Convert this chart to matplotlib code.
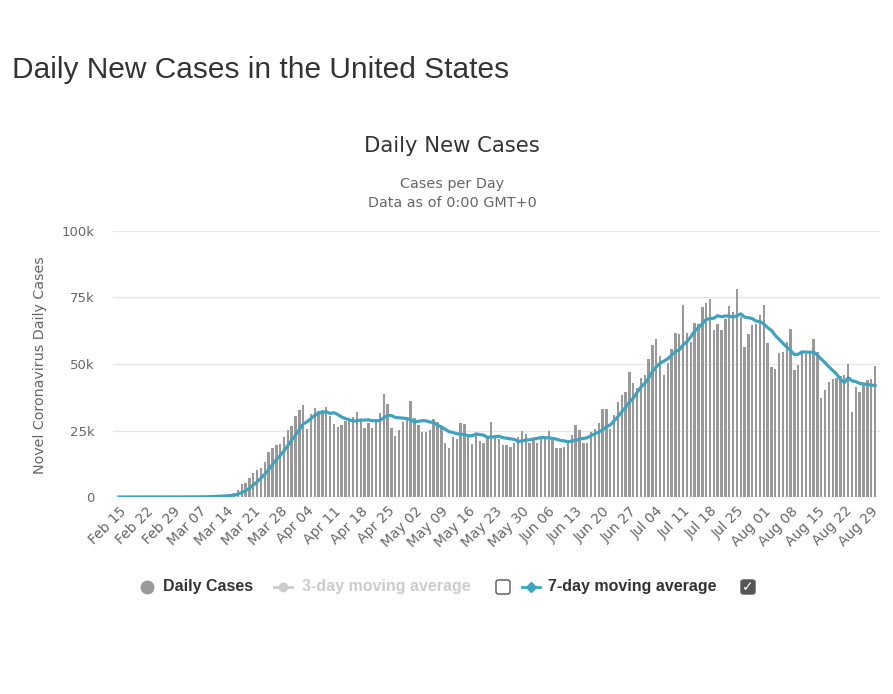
import numpy as np
import pandas as pd
import matplotlib
matplotlib.use("Agg")
import matplotlib.pyplot as plt
from matplotlib.lines import Line2D
from matplotlib.patches import FancyBboxPatch

# daily new cases in thousands, one value per day starting Feb 15 2020
daily_cases = [
    # Feb 15 - Feb 29
    0, 0, 0, 0, 0, 0, 0.02, 0, 0, 0, 0.01, 0.02, 0.01, 0.01, 0.02,
    # Mar 1 - Mar 16
    0.008, 0.02, 0.024, 0.033, 0.074, 0.089, 0.116, 0.116, 0.245, 0.291,
    0.455, 0.538, 0.65, 0.687, 1.0, 1.5,
    # Mar 17 - Mar 31
    2.6, 5.0, 5.1, 7.0, 9.0, 10.0, 11.0, 13.0, 17.0, 18.4, 19.5, 20.0,
    22.7, 25.2, 26.7,
    # April
    30.5, 32.7, 34.6, 25.5, 31.2, 33.6, 32.5, 32.7, 34.0, 30.5, 27.4,
    26.4, 27.0, 28.5, 29.6, 30.2, 32.0, 29.0, 26.0, 28.0, 26.0, 29.2,
    31.7, 38.7, 35.0, 25.8, 22.9, 25.2, 28.3, 30.2, 36.0,
    # May
    29.6, 27.0, 24.6, 24.6, 25.2, 29.2, 28.3, 25.8, 20.4, 18.3, 22.7,
    21.7, 28.0, 27.4, 22.9, 20.0, 23.3, 21.0, 20.4, 22.1, 28.3, 23.3,
    21.7, 19.5, 19.5, 18.9, 20.4, 22.7, 24.9, 23.7, 20.4, 21.7, 20.4,
    # June
    22.7, 22.0, 24.9, 22.1, 18.5, 18.5, 18.9, 20.8, 23.3, 27.1, 25.2,
    20.2, 20.4, 24.6, 25.4, 27.9, 33.0, 33.0, 25.4, 30.8, 35.7,
    38.3, 39.6, 47.1, 43.0, 40.8, 44.6, 45.9, 51.8, 57.1,
    # July
    59.3, 53.0, 45.9, 50.5, 55.5, 61.8, 61.3, 72.2, 61.8, 58.4, 65.5,
    65.0, 71.5, 73.0, 74.3, 62.8, 65.0, 62.8, 66.8, 71.8, 69.7, 78.1,
    67.8, 56.3, 61.3, 64.7, 65.0, 68.4, 72.2, 58.0, 49.0,
    # August
    48.0, 54.3, 54.6, 58.4, 63.0, 47.7, 49.6, 54.3, 53.8, 54.0, 59.3,
    54.6, 37.1, 40.2, 43.4, 44.2, 44.6, 45.5, 46.0, 50.0, 32.1, 41.2,
    39.6, 43.0, 44.0, 44.5, 49.2,
]
start_date = "2020-02-15"
y_ticks = [0, 25000, 50000, 75000, 100000]
y_tick_labels = ["0", "25k", "50k", "75k", "100k"]

bar_color = "#999999"
line_color = "#3ea3bf"
grid_color = "#e6e6e6"
text_dark = "#333333"
text_mid = "#666666"

cases = np.array(daily_cases) * 1000
days = np.arange(len(cases))
dates = pd.date_range(start_date, periods=len(cases), freq="D")
ma7 = pd.Series(cases).rolling(7, min_periods=1).mean()

W, H = 893, 694
fig = plt.figure(figsize=(W / 100, H / 100), dpi=100)
fig.patch.set_facecolor("white")

def fx(px):
    return px / W

def fy(py):
    return 1 - py / H

ax = fig.add_axes([fx(113), fy(497), fx(880) - fx(113), fy(231) - fy(497)])
ax.bar(days, cases, width=0.62, color=bar_color, zorder=2)
ax.plot(days, ma7, color=line_color, lw=2.3, zorder=3)

ax.set_xlim(-1.56, 198.3)
ax.set_ylim(0, 100000)
ax.set_yticks(y_ticks)
ax.set_yticklabels(y_tick_labels, color=text_mid, fontsize=9.5)
for y in y_ticks:
    ax.axhline(y, color="#ccd6eb" if y == 0 else grid_color, lw=1, zorder=1)

tick_idx = days[::7]
ax.set_xticks(tick_idx)
ax.set_xticklabels([dates[i].strftime("%b %d") for i in tick_idx],
                   rotation=45, ha="right", va="top", rotation_mode="anchor",
                   color=text_mid, fontsize=10)
ax.tick_params(axis="both", length=0)
ax.tick_params(axis="y", pad=13)
ax.tick_params(axis="x", pad=5)
for s in ax.spines.values():
    s.set_visible(False)

# titles
fig.text(fx(12), fy(70), "Daily New Cases in the United States",
         family="Liberation Sans", fontsize=21.5, color=text_dark,
         ha="left", va="center")
fig.text(fx(452), fy(146), "Daily New Cases", fontsize=15.2,
         color=text_dark, ha="center", va="center")
fig.text(fx(452), fy(184), "Cases per Day", fontsize=10.4,
         color=text_mid, ha="center", va="center")
fig.text(fx(452), fy(203), "Data as of 0:00 GMT+0", fontsize=10.4,
         color=text_mid, ha="center", va="center")
fig.text(fx(40), fy(365), "Novel Coronavirus Daily Cases", fontsize=10.3,
         color=text_mid, rotation=90, ha="center", va="center")

# legend, drawn by hand
ly = fy(587)
leg_font = dict(family="Liberation Sans", fontsize=11.5, fontweight="bold",
                va="center", ha="left")
fig.add_artist(Line2D([fx(147)], [ly], marker="o", markersize=9,
                      color=bar_color, transform=fig.transFigure))
fig.text(fx(163), ly, "Daily Cases", color=text_dark, **leg_font)

fig.add_artist(Line2D([fx(274), fx(292)], [ly, ly], lw=2, color="#cccccc",
                      transform=fig.transFigure))
fig.add_artist(Line2D([fx(283)], [ly], marker="o", markersize=6,
                      color="#cccccc", transform=fig.transFigure))
fig.text(fx(302), ly, "3-day moving average", color="#cccccc", **leg_font)

box_w, box_h = fx(14), 14 / H
fig.add_artist(FancyBboxPatch((fx(496), ly - box_h / 2), box_w, box_h,
                              boxstyle="round,pad=0,rounding_size=0.003",
                              fc="white", ec="#555555", lw=1,
                              transform=fig.transFigure))

fig.add_artist(Line2D([fx(522), fx(540)], [ly, ly], lw=2, color=line_color,
                      transform=fig.transFigure))
fig.add_artist(Line2D([fx(531)], [ly], marker="D", markersize=5,
                      color=line_color, transform=fig.transFigure))
fig.text(fx(548), ly, "7-day moving average", color=text_dark, **leg_font)

fig.add_artist(FancyBboxPatch((fx(741), ly - box_h / 2), box_w, box_h,
                              boxstyle="round,pad=0,rounding_size=0.003",
                              fc="#555555", ec="#555555", lw=1,
                              transform=fig.transFigure))
fig.text(fx(748), ly, "\u2713", color="white", fontsize=10,
         fontweight="bold", ha="center", va="center")

fig.savefig("out.png", dpi=100)
